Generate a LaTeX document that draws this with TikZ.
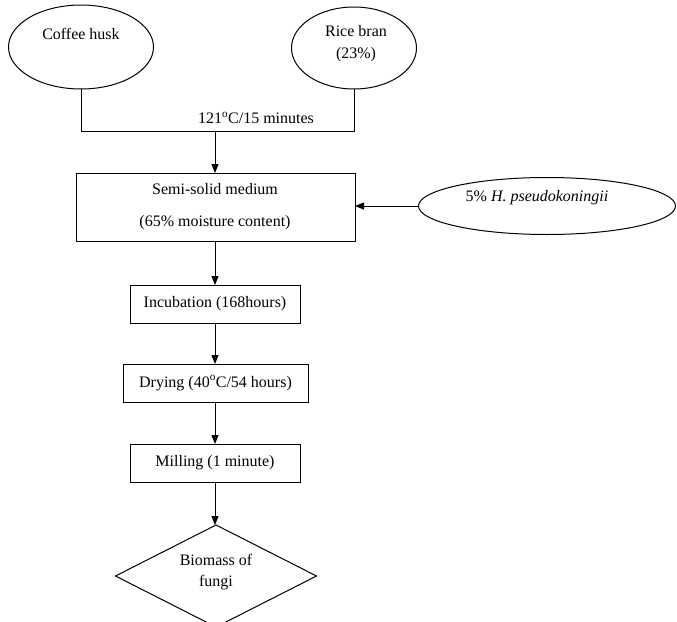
\documentclass[tikz,border=0pt]{standalone}
\usepackage{fontspec}
\setmainfont{Liberation Serif}
\usetikzlibrary{shapes.geometric,arrows.meta}
\begin{document}
\begin{tikzpicture}[x=1pt,y=-1pt,
  every node/.style={font=\fontsize{16}{22}\selectfont, inner sep=0pt, outer sep=0pt},
  proc/.style={draw, rectangle, line width=1pt},
  oval/.style={draw, ellipse, line width=1pt},
  link/.style={line width=1pt},
  conn/.style={line width=1pt, -{Triangle[length=9pt,width=7pt]}}]
\useasboundingbox (0,0) rectangle (677,621);
% sources
\node[oval, minimum width=145, minimum height=84] (coffee) at (81,47) {};
\node (coffeet) at (81,34) {Coffee husk};
\node[oval, minimum width=125, minimum height=82] (rice) at (354,48) {};
\node[align=center] (ricet) at (356,44) {Rice bran\\(23\%)};
\coordinate (jm) at (215,131);
\draw[link] (coffee.south) -- (coffee.south |- jm) -- (rice.south |- jm) -- (rice.south);
\node (temp) at (256,118) {121\textsuperscript{o}C/15 minutes};
% medium
\node[proc, minimum width=279, minimum height=68] (medium) at (215.5,207) {};
\node (mediumt1) at (215,189) {Semi-solid medium};
\node (mediumt2) at (215,223) {(65\% moisture content)};
\draw[conn] (jm) -- (jm |- medium.north);
% inoculum
\node[oval, minimum width=257, minimum height=57] (inoc) at (547,206) {};
\node (inoct) at (537,198) {5\% \textit{H. pseudokoningii}};
\draw[conn] (inoc.west) -- (inoc.west -| medium.east);
% process steps
\node[proc, minimum width=170, minimum height=38] (incub) at (215,304) {Incubation (168hours)};
\node[proc, minimum width=185, minimum height=38] (dry) at (215.5,383) {Drying (40\textsuperscript{o}C/54 hours)};
\node[proc, minimum width=170, minimum height=38] (mill) at (215,463) {Milling (1 minute)};
\node[draw, diamond, line width=1pt, minimum width=201, minimum height=102] (bio) at (216,576) {};
\node[align=center, font=\fontsize{16}{21}\selectfont] (biot) at (216,572) {Biomass of\\fungi};
\draw[conn] (incub.north |- medium.south) -- (incub.north);
\draw[conn] (incub.south) -- (dry.north -| incub.south);
\draw[conn] (mill.north |- dry.south) -- (mill.north);
\draw[conn] (mill.south) -- (mill.south |- bio.north);
\end{tikzpicture}
\end{document}
